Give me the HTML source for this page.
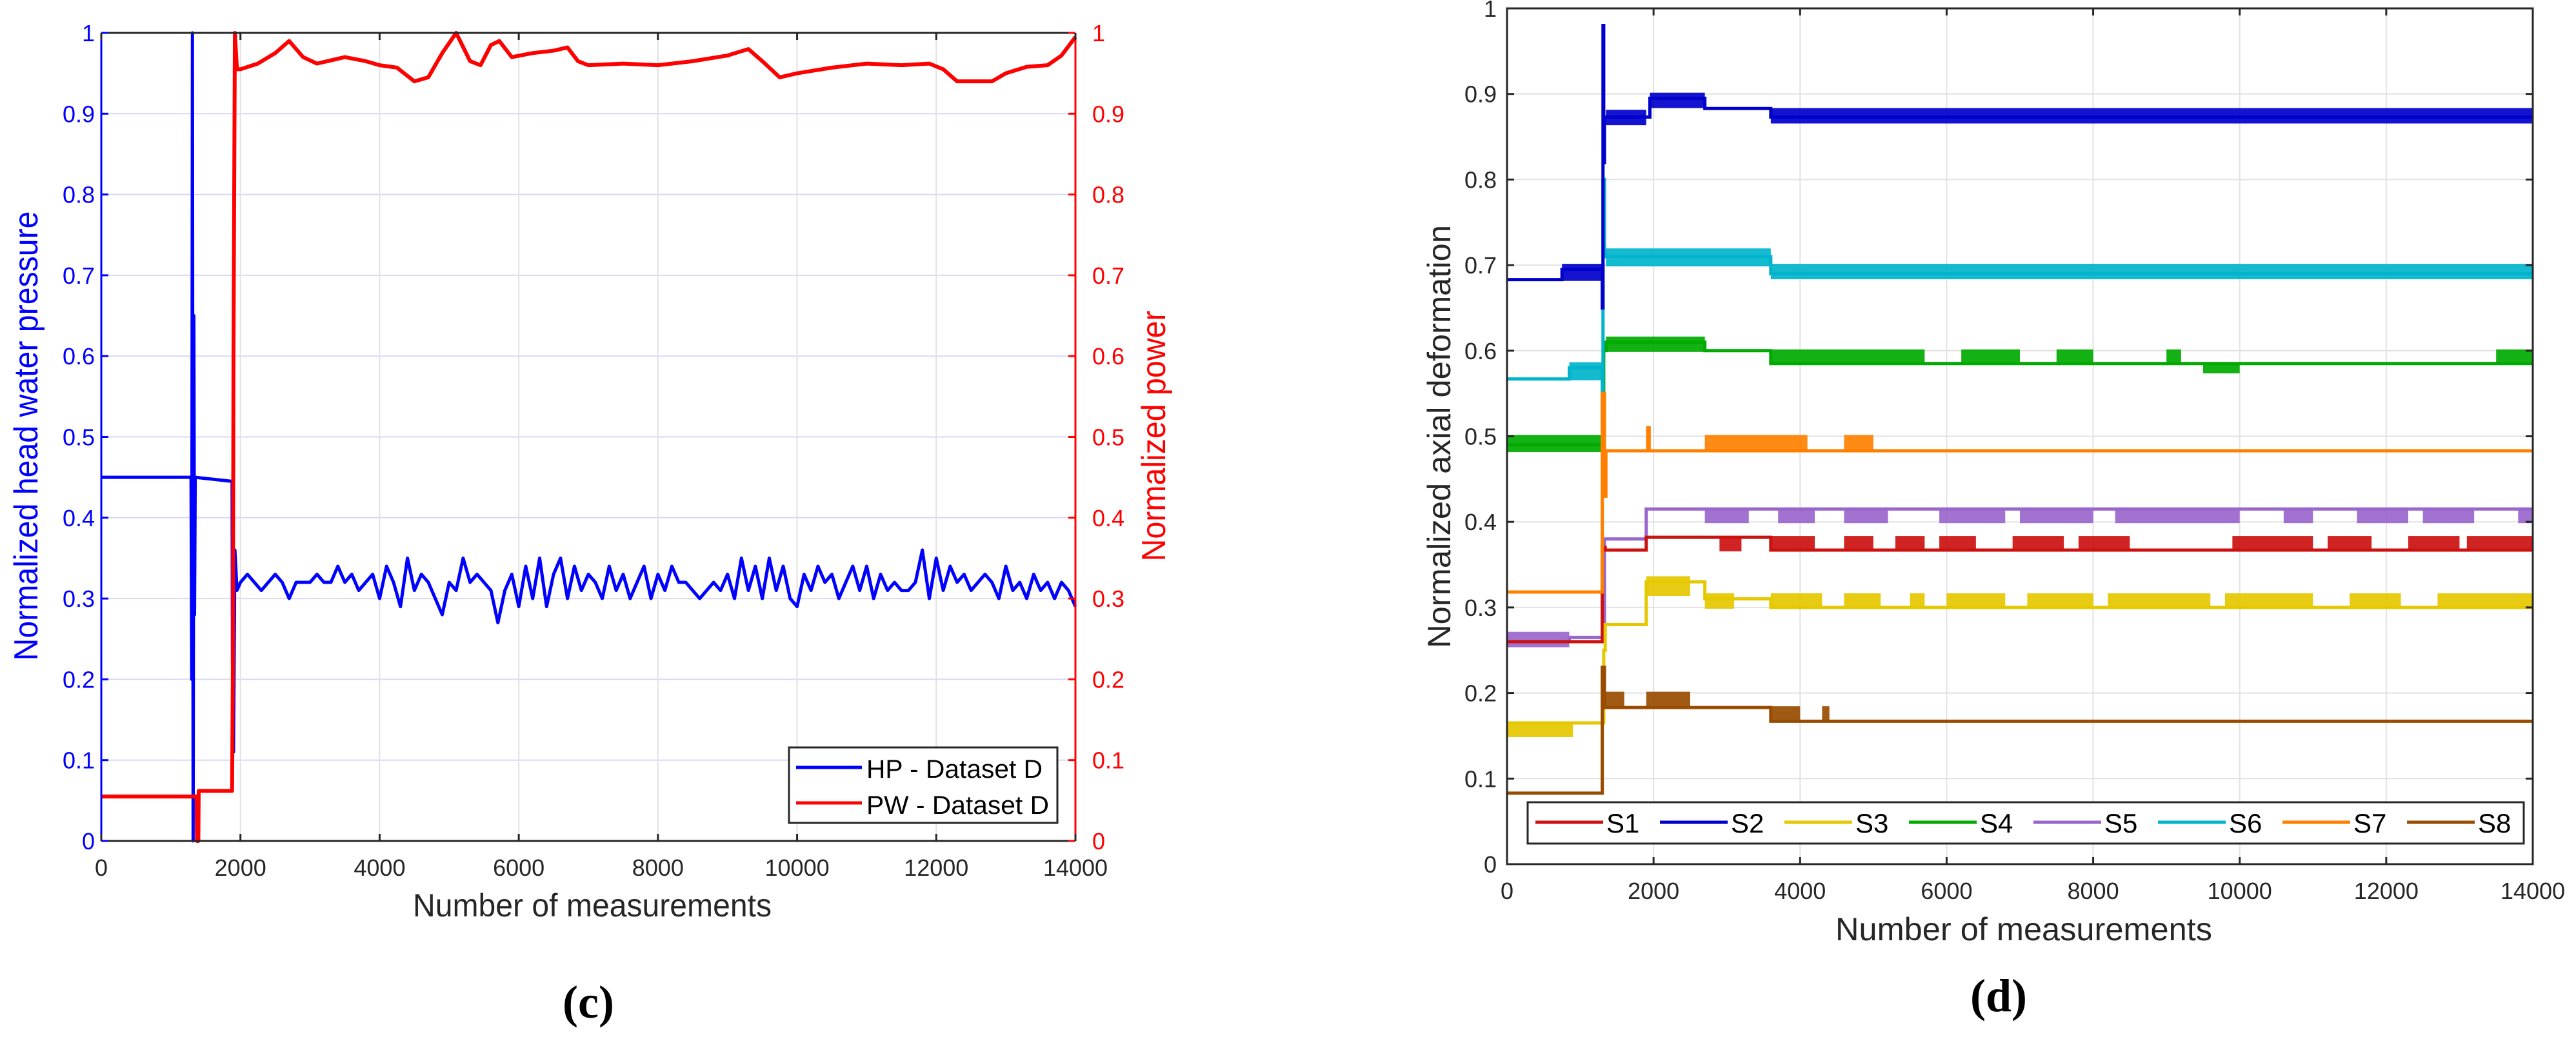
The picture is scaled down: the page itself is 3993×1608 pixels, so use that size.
<!DOCTYPE html>
<html><head><meta charset="utf-8"><style>
html,body{margin:0;padding:0;background:#fff;}
svg{display:block;font-family:"Liberation Sans",sans-serif;}
</style></head><body>
<svg id="fig" width="3993" height="1608" viewBox="0 0 3993 1608" xmlns="http://www.w3.org/2000/svg">
<rect x="0" y="0" width="3993" height="1608" fill="#fff"/>
<g id="chartC"></g>
<g id="chartD"></g>
<text x="912" y="1578" font-family="Liberation Serif,serif" font-size="72" font-weight="bold" text-anchor="middle" fill="#000">(c)</text>
<text x="3098" y="1568" font-family="Liberation Serif,serif" font-size="72" font-weight="bold" text-anchor="middle" fill="#000">(d)</text>
</svg>
<script>
// ---------- Chart (c) data ----------
const xTicks = [0,2000,4000,6000,8000,10000,12000,14000];
const yTicks = [0,0.1,0.2,0.3,0.4,0.5,0.6,0.7,0.8,0.9,1];
const yTickLabels = ["0","0.1","0.2","0.3","0.4","0.5","0.6","0.7","0.8","0.9","1"];
const hpPrefixX = [0,1290,1300,1310,1320,1330,1340,1350,1880,1885,1900,1920,1950];
const hpPrefixY = [0.45,0.45,0.2,1.0,0.0,0.65,0.28,0.45,0.445,0.23,0.11,0.36,0.31];
const hpSteadyStart = 2000;
const hpSteadyStep = 100;
const hpSteadyY = [0.32,0.33,0.32,0.31,0.32,0.33,0.32,0.30,0.32,0.32,
0.32,0.33,0.32,0.32,0.34,0.32,0.33,0.31,0.32,0.33,
0.30,0.34,0.32,0.29,0.35,0.31,0.33,0.32,0.30,0.28,
0.32,0.31,0.35,0.32,0.33,0.32,0.31,0.27,0.31,0.33,
0.29,0.34,0.30,0.35,0.29,0.33,0.35,0.30,0.34,0.31,
0.33,0.32,0.30,0.34,0.31,0.33,0.30,0.32,0.34,0.30,
0.33,0.31,0.34,0.32,0.32,0.31,0.30,0.31,0.32,0.31,
0.33,0.30,0.35,0.31,0.34,0.30,0.35,0.31,0.34,0.30,
0.29,0.33,0.31,0.34,0.32,0.33,0.30,0.32,0.34,0.31,
0.34,0.30,0.33,0.31,0.32,0.31,0.31,0.32,0.36,0.30,
0.35,0.31,0.34,0.32,0.33,0.31,0.32,0.33,0.32,0.30,
0.34,0.31,0.32,0.30,0.33,0.31,0.32,0.30,0.32,0.31,0.29];
const pwX = [0,1370,1375,1395,1400,1880,1890,1900,1920,1950,2000,2250,2500,2700,2900,3100,3500,3800,4000,4250,4500,4700,4900,5100,5300,5450,5600,5720,5900,6200,6500,6700,6850,7000,7500,8000,8500,9000,9300,9500,9750,10000,10500,11000,11500,11900,12100,12300,12800,13000,13300,13600,13800,14000];
const pwY = [0.055,0.055,0.0,0.0,0.062,0.062,0.2,0.6,1.0,0.955,0.955,0.962,0.975,0.99,0.97,0.962,0.97,0.965,0.96,0.957,0.94,0.945,0.975,1.0,0.965,0.96,0.985,0.99,0.97,0.975,0.978,0.982,0.965,0.96,0.962,0.96,0.965,0.972,0.98,0.965,0.945,0.95,0.957,0.962,0.96,0.962,0.955,0.94,0.94,0.95,0.958,0.96,0.972,0.995];

// ---------- Chart (d) data ----------
const dNames = ["S1","S2","S3","S4","S5","S6","S7","S8"];
const s1StepX=[0,1300,1340,1900,3600], s1StepY=[0.26,0.37,0.367,0.382,0.367];
const s1Bands=[[2900,3200,0.367,0.382],[3600,4200,0.367,0.382],[4600,5000,0.367,0.382],[5300,5700,0.367,0.382],[5900,6400,0.367,0.382],[6900,7600,0.367,0.382],[7800,8500,0.367,0.382],[9900,11000,0.367,0.382],[11200,11800,0.367,0.382],[12300,13000,0.367,0.382],[13100,14000,0.367,0.382]];
const s2StepX=[0,750,1300,1310,1320,1330,1950,2700,3600], s2StepY=[0.683,0.695,0.65,0.98,0.82,0.873,0.895,0.883,0.873];
const s2Bands=[[750,1300,0.683,0.7],[1350,1900,0.865,0.88],[1950,2700,0.885,0.9],[3600,14000,0.867,0.882]];
const s3StepX=[0,1320,1340,1900,2700,3600], s3StepY=[0.165,0.25,0.28,0.33,0.31,0.30];
const s3Bands=[[0,900,0.15,0.165],[1900,2500,0.315,0.335],[2700,3100,0.3,0.315],[3600,4300,0.3,0.315],[4600,5100,0.3,0.315],[5500,5700,0.3,0.315],[6000,6800,0.3,0.315],[7100,8000,0.3,0.315],[8200,9600,0.3,0.315],[9800,11000,0.3,0.315],[11500,12200,0.3,0.315],[12700,14000,0.3,0.315]];
const s4StepX=[0,1320,1350,2700,3600], s4StepY=[0.49,0.6,0.61,0.6,0.585];
const s4Bands=[[0,1300,0.483,0.5],[1350,2700,0.6,0.615],[3600,5700,0.585,0.6],[6200,7000,0.585,0.6],[7500,8000,0.585,0.6],[9000,9200,0.585,0.6],[9500,10000,0.575,0.585],[13500,14000,0.585,0.6]];
const s5StepX=[0,850,1330,1900], s5StepY=[0.26,0.265,0.38,0.415];
const s5Bands=[[0,850,0.255,0.27],[2700,3300,0.4,0.415],[3700,4200,0.4,0.415],[4600,5200,0.4,0.415],[5900,6800,0.4,0.415],[7000,8000,0.4,0.415],[8300,10000,0.4,0.415],[10600,11000,0.4,0.415],[11600,12300,0.4,0.415],[12500,13200,0.4,0.415],[13800,14000,0.4,0.415]];
const s6StepX=[0,850,1300,1310,1330,3600], s6StepY=[0.567,0.58,0.52,0.8,0.71,0.69];
const s6Bands=[[850,1300,0.567,0.585],[1350,3600,0.7,0.718],[3600,14000,0.685,0.7]];
const s7StepX=[0,1300,1330,1350,1920,1940], s7StepY=[0.318,0.55,0.43,0.483,0.51,0.483];
const s7Bands=[[2700,4100,0.483,0.5],[4600,5000,0.483,0.5]];
const s8StepX=[0,1300,1330,3600], s8StepY=[0.083,0.23,0.183,0.167];
const s8Bands=[[1350,1600,0.183,0.2],[1900,2500,0.183,0.2],[3600,4000,0.167,0.183],[4300,4400,0.167,0.183]];

const NS="http://www.w3.org/2000/svg";
function mk(parent,tag,attrs,text){const e=document.createElementNS(NS,tag);for(const k in attrs)e.setAttribute(k,attrs[k]);if(text!==undefined)e.textContent=text;parent.appendChild(e);return e;}

// ===== Chart C =====
(function(){
const g=document.getElementById('chartC');
const L=157,R=1667,T=51,B=1304;
const xs=v=>L+(v/14000)*(R-L);
const ys=v=>B-v*(B-T);
yTicks.forEach((t,i)=>{if(t>0&&t<1){const l=mk(g,'line',{x1:L,x2:R,y1:ys(t),y2:ys(t),stroke:'#d8d8f6','stroke-width':2});

}});
xTicks.forEach(t=>{if(t>0&&t<14000){const l=mk(g,'line',{x1:xs(t),x2:xs(t),y1:T,y2:B,stroke:'#e2e2e2','stroke-width':2});

}});
let pts=[];hpPrefixX.forEach((x,i)=>pts.push(xs(x)+','+ys(hpPrefixY[i])));
hpSteadyY.forEach((v,i)=>pts.push(xs(hpSteadyStart+i*hpSteadyStep)+','+ys(v)));
const hp=mk(g,'polyline',{points:pts.join(' '),fill:'none',stroke:'#0000ff','stroke-width':5,'stroke-linejoin':'round'});


pts=pwX.map((x,i)=>xs(x)+','+ys(pwY[i]));
const pw=mk(g,'polyline',{points:pts.join(' '),fill:'none',stroke:'#ff0000','stroke-width':6,'stroke-linejoin':'round'});


const fr=mk(g,'path',{d:`M${L},${T}H${R}M${L},${B}H${R}`,stroke:'#262626','stroke-width':3,fill:'none'});


const la=mk(g,'line',{x1:L,x2:L,y1:T,y2:B,stroke:'#0000ff','stroke-width':3});


const ra=mk(g,'line',{x1:R,x2:R,y1:T,y2:B,stroke:'#ff0000','stroke-width':3});


yTicks.forEach((t,i)=>{
 mk(g,'line',{x1:L,x2:L+11,y1:ys(t),y2:ys(t),stroke:'#0000ff','stroke-width':3});
 mk(g,'line',{x1:R-11,x2:R,y1:ys(t),y2:ys(t),stroke:'#ff0000','stroke-width':3});
 const a=mk(g,'text',{x:L-10,y:ys(t)+13,'font-size':36,'text-anchor':'end',fill:'#0000ff'},yTickLabels[i]);
 
 
 const b=mk(g,'text',{x:R+26,y:ys(t)+13,'font-size':36,'text-anchor':'start',fill:'#ff0000'},yTickLabels[i]);
 
 
});
xTicks.forEach(t=>{
 mk(g,'line',{x1:xs(t),x2:xs(t),y1:B,y2:B-11,stroke:'#262626','stroke-width':3});
 mk(g,'line',{x1:xs(t),x2:xs(t),y1:T,y2:T+11,stroke:'#262626','stroke-width':3});
 const a=mk(g,'text',{x:xs(t),y:1358,'font-size':36,'text-anchor':'middle',fill:'#262626'},String(t));
 
 
});
const xt=mk(g,'text',{x:918,y:1421,'font-size':50,'text-anchor':'middle',fill:'#262626',textLength:556,lengthAdjust:'spacingAndGlyphs'},'Number of measurements');


const yt=mk(g,'text',{x:0,y:0,'font-size':52,'text-anchor':'middle',fill:'#0000ff',transform:'translate(58,676) rotate(-90)',textLength:697,lengthAdjust:'spacingAndGlyphs'},'Normalized head water pressure');


const yr=mk(g,'text',{x:0,y:0,'font-size':52,'text-anchor':'middle',fill:'#ff0000',transform:'translate(1806,676) rotate(-90)',textLength:389,lengthAdjust:'spacingAndGlyphs'},'Normalized power');


const lg=mk(g,'g',{});


mk(lg,'rect',{x:1223,y:1159,width:416,height:117,fill:'#fff',stroke:'#262626','stroke-width':3});
mk(lg,'line',{x1:1234,x2:1336,y1:1190,y2:1190,stroke:'#0000ff','stroke-width':5});
mk(lg,'line',{x1:1234,x2:1336,y1:1245,y2:1245,stroke:'#ff0000','stroke-width':5});
const e1=mk(lg,'text',{x:1343,y:1206,'font-size':40,fill:'#000',textLength:273,lengthAdjust:'spacingAndGlyphs'},'HP - Dataset D');


const e2=mk(lg,'text',{x:1343,y:1262,'font-size':40,fill:'#000',textLength:283,lengthAdjust:'spacingAndGlyphs'},'PW - Dataset D');


})();

// ===== Chart D =====
(function(){
const g=document.getElementById('chartD');
const L=2336,R=3926,T=13,B=1340;
const xs=v=>L+(v/14000)*(R-L);
const ys=v=>B-v*(B-T);
yTicks.forEach(t=>{if(t>0&&t<1){const l=mk(g,'line',{x1:L,x2:R,y1:ys(t),y2:ys(t),stroke:'#e2e2e2','stroke-width':2});

}});
xTicks.forEach(t=>{if(t>0&&t<14000){const l=mk(g,'line',{x1:xs(t),x2:xs(t),y1:T,y2:B,stroke:'#e2e2e2','stroke-width':2});

}});
const series=[
 {n:'s1',c:'#cc1111',sx:s1StepX,sy:s1StepY,b:s1Bands},
 {n:'s2',c:'#0000cc',sx:s2StepX,sy:s2StepY,b:s2Bands},
 {n:'s3',c:'#e6c800',sx:s3StepX,sy:s3StepY,b:s3Bands},
 {n:'s4',c:'#00aa00',sx:s4StepX,sy:s4StepY,b:s4Bands},
 {n:'s5',c:'#9966cc',sx:s5StepX,sy:s5StepY,b:s5Bands},
 {n:'s6',c:'#00b4cc',sx:s6StepX,sy:s6StepY,b:s6Bands},
 {n:'s7',c:'#ff8000',sx:s7StepX,sy:s7StepY,b:s7Bands},
 {n:'s8',c:'#994c00',sx:s8StepX,sy:s8StepY,b:s8Bands}];
[4,0,2,3,5,1,6,7].forEach(i=>{
 const s=series[i];
 const sg=mk(g,'g',{});
 
 
 s.b.forEach(b=>{
  const r=mk(sg,'rect',{x:xs(b[0]),y:ys(b[3])-2,width:xs(b[1])-xs(b[0]),height:ys(b[2])-ys(b[3])+4,fill:s.c,opacity:0.92});
  
  
 });
 let d='M'+xs(s.sx[0])+','+ys(s.sy[0]);
 for(let k=1;k<s.sx.length;k++){d+='H'+xs(s.sx[k])+'V'+ys(s.sy[k]);}
 d+='H'+xs(14000);
 const p=mk(sg,'path',{d:d,fill:'none',stroke:s.c,'stroke-width':5});
 
 
});
const fr=mk(g,'rect',{x:L,y:T,width:R-L,height:B-T,fill:'none',stroke:'#262626','stroke-width':3});


yTicks.forEach((t,i)=>{
 mk(g,'line',{x1:L,x2:L+11,y1:ys(t),y2:ys(t),stroke:'#262626','stroke-width':3});
 mk(g,'line',{x1:R-11,x2:R,y1:ys(t),y2:ys(t),stroke:'#262626','stroke-width':3});
 const a=mk(g,'text',{x:L-16,y:ys(t)+13,'font-size':36,'text-anchor':'end',fill:'#262626'},yTickLabels[i]);
 
 
});
xTicks.forEach(t=>{
 mk(g,'line',{x1:xs(t),x2:xs(t),y1:B,y2:B-11,stroke:'#262626','stroke-width':3});
 mk(g,'line',{x1:xs(t),x2:xs(t),y1:T,y2:T+11,stroke:'#262626','stroke-width':3});
 const a=mk(g,'text',{x:xs(t),y:1394,'font-size':36,'text-anchor':'middle',fill:'#262626'},String(t));
 
 
});
const xt=mk(g,'text',{x:3137,y:1458,'font-size':50,'text-anchor':'middle',fill:'#262626',textLength:584,lengthAdjust:'spacingAndGlyphs'},'Number of measurements');


const yt=mk(g,'text',{x:0,y:0,'font-size':50,'text-anchor':'middle',fill:'#262626',transform:'translate(2248,677) rotate(-90)',textLength:656,lengthAdjust:'spacingAndGlyphs'},'Normalized axial deformation');


const lg=mk(g,'g',{});


mk(lg,'rect',{x:2368,y:1244,width:1544,height:64,fill:'#fff',stroke:'#262626','stroke-width':3});
series.forEach((s,i)=>{
 const x0=2380+i*193;
 mk(lg,'line',{x1:x0,x2:x0+105,y1:1275,y2:1275,stroke:s.c,'stroke-width':5});
 const t=mk(lg,'text',{x:x0+110,y:1291,'font-size':42,fill:'#000'},dNames[i]);
 
 
});
})();
</script>
</body></html>
